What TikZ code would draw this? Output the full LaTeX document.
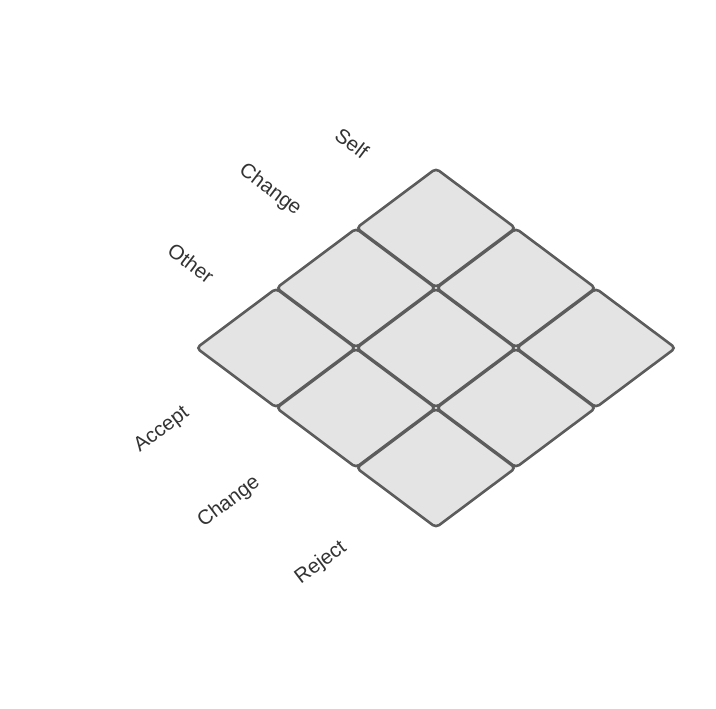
\documentclass[tikz,border=0pt]{standalone}
\usepackage{fontspec}
\setmainfont{Liberation Sans}
\usetikzlibrary{shapes.geometric}

\definecolor{cellfill}{HTML}{E4E4E4}
\definecolor{celldraw}{HTML}{5C5C5C}
\definecolor{labeltext}{HTML}{333333}

\tikzset{
  cell/.style={diamond, draw=celldraw, fill=cellfill, line width=2.6pt,
    rounded corners=4pt, inner sep=0pt, minimum width=160pt, minimum height=120pt},
  axislabel/.style={text=labeltext, font=\fontsize{20.5}{22}\selectfont, inner sep=0pt},
}

\begin{document}
\begin{tikzpicture}[x=1pt,y=-1pt]
        \useasboundingbox (0,0) rectangle (716,709);

        % top row
        \node[cell] (c11) at (436,228) {};

        % second row
        \node[cell] (c21) at (356,288) {};
        \node[cell] (c12) at (516,288) {};

        % middle row
        \node[cell] (c31) at (276,348) {};
        \node[cell] (c22) at (436,348) {};
        \node[cell] (c13) at (596,348) {};

        % fourth row
        \node[cell] (c32) at (356,408) {};
        \node[cell] (c23) at (516,408) {};

        % bottom row
        \node[cell] (c33) at (436,468) {};

        % self / other axis
        \node[axislabel, rotate=-37] (self) at (352,143) {Self};
        \node[axislabel, rotate=-37] (change) at (270,190) {Change};
        \node[axislabel, rotate=-37] (other) at (191,263) {Other};

        % accept / reject axis
        \node[axislabel, rotate=37] (accept) at (162,430) {Accept};
        \node[axislabel, rotate=37] (mid) at (229,502) {Change};
        \node[axislabel, rotate=37] (reject) at (321,563) {Reject};
    \end{tikzpicture}
\end{document}
